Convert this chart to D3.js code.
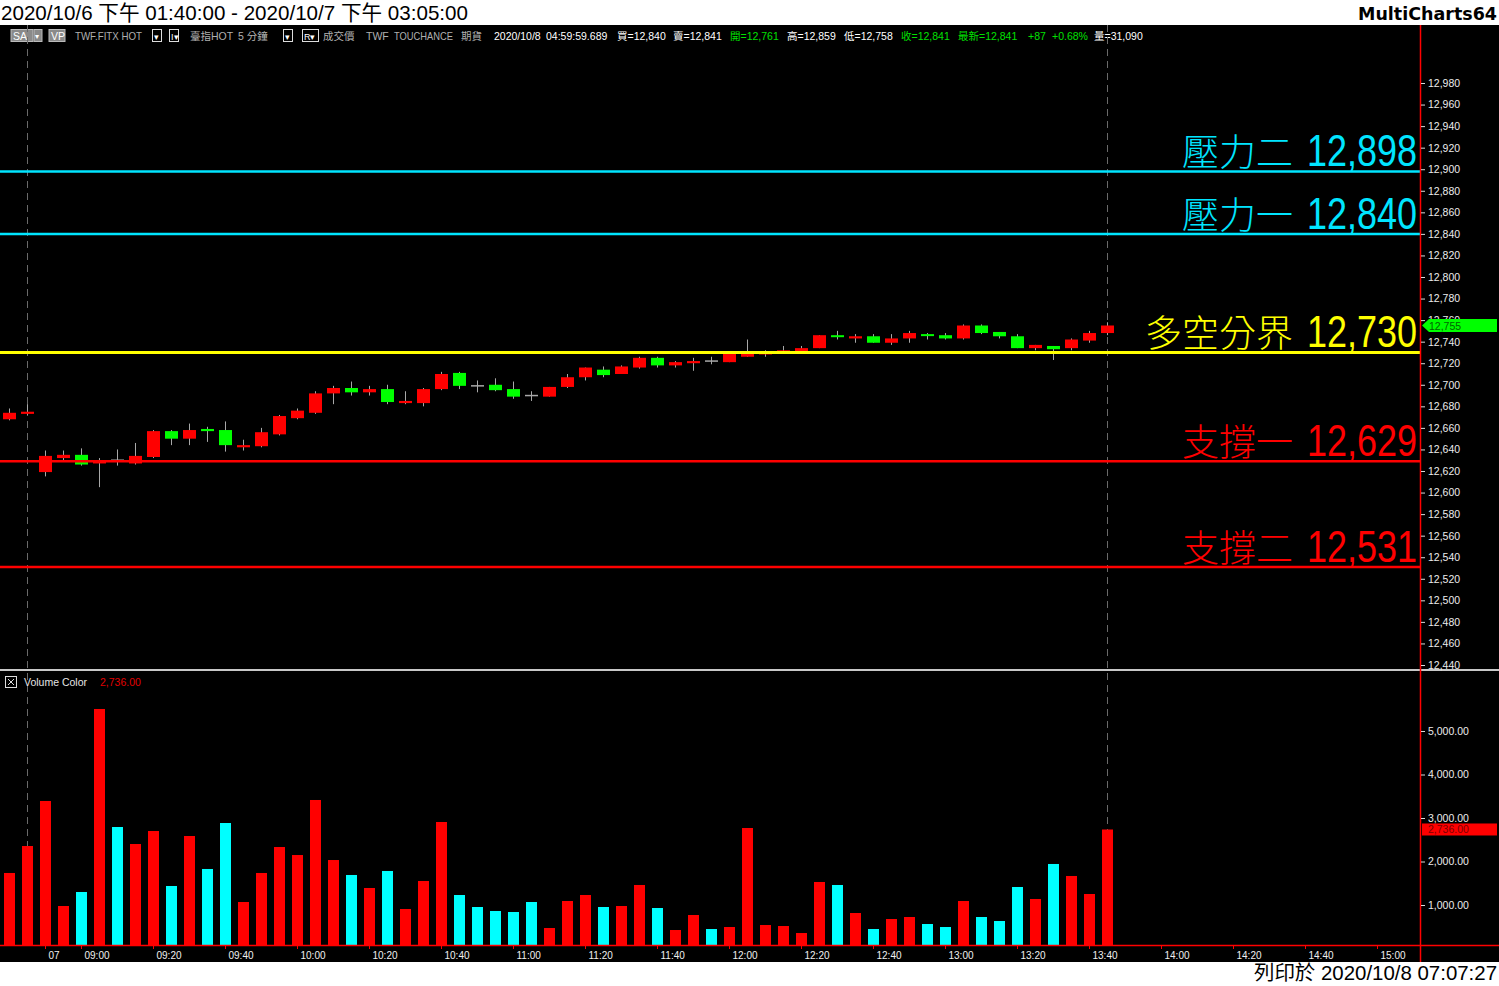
<!DOCTYPE html>
<html><head><meta charset="utf-8">
<script src="https://cdn.jsdelivr.net/npm/d3@7"></script>
<style>body{margin:0;background:#fff;overflow:hidden}svg{display:block}</style>
</head><body>
<svg id="c" width="1499" height="986"></svg>
<script>
// ---------- DATA ----------
const times = ["13:40","13:45","08:50","08:55","09:00","09:05","09:10","09:15","09:20","09:25",
"09:30","09:35","09:40","09:45","09:50","09:55","10:00","10:05","10:10","10:15",
"10:20","10:25","10:30","10:35","10:40","10:45","10:50","10:55","11:00","11:05",
"11:10","11:15","11:20","11:25","11:30","11:35","11:40","11:45","11:50","11:55",
"12:00","12:05","12:10","12:15","12:20","12:25","12:30","12:35","12:40","12:45",
"12:50","12:55","13:00","13:05","13:10","13:15","13:20","13:25","13:30","13:35",
"13:40","13:45"];
const opens  = [12668,12673,12619,12632,12635,12627,12630,12627,12633,12657,12650,12659,12658,12642,12643,12654,12669,12674,12692,12697,12693,12696,12683,12683,12696,12711,12699,12700,12696,12690,12689,12698,12707,12714,12710,12716,12725,12718,12720,12722,12721,12726,12729,12731,12731,12734,12746,12743,12745,12739,12743,12747,12746,12743,12755,12749,12745,12734,12736,12734,12741,12748];
const highs  = [12678,12682,12639,12639,12641,12632,12640,12646,12658,12658,12664,12661,12666,12649,12660,12672,12678,12694,12699,12703,12699,12700,12694,12697,12712,12712,12704,12706,12703,12694,12698,12710,12716,12717,12718,12726,12726,12722,12725,12726,12730,12742,12732,12736,12736,12746,12750,12747,12747,12747,12750,12748,12748,12756,12756,12749,12747,12737,12736,12743,12750,12758];
const lows   = [12667,12672,12615,12630,12625,12605,12625,12626,12632,12644,12644,12647,12638,12639,12642,12653,12668,12673,12682,12690,12690,12682,12682,12680,12695,12696,12693,12694,12687,12685,12689,12697,12704,12707,12710,12715,12716,12716,12713,12719,12721,12726,12726,12730,12730,12734,12742,12739,12739,12737,12739,12742,12742,12742,12747,12743,12734,12732,12723,12732,12739,12746];
const closes = [12674,12675,12634,12635,12626,12630,12630,12634,12657,12650,12658,12657,12644,12644,12656,12671,12676,12692,12697,12693,12696,12684,12685,12696,12710,12699,12699,12695,12689,12690,12698,12707,12716,12709,12717,12725,12718,12721,12722,12722,12730,12730,12730,12732,12734,12746,12745,12745,12739,12743,12748,12746,12743,12755,12748,12745,12734,12737,12733,12742,12748,12755];
const volumes = [1736,2356,3391,977,1299,5506,2793,2402,2701,1437,2586,1828,2885,1069,1736,2333,2149,3414,2034,1690,1391,1782,908,1552,2908,1230,954,862,839,1069,471,1092,1230,954,977,1460,931,425,770,448,494,2770,540,517,356,1529,1460,816,448,678,724,563,494,1092,724,632,1414,1138,1943,1667,1253,2736];
const timeTickSlots  = [2,4,8,12,16,20,24,28,32,36,40,44,48,52,56,60,64,68,72,76];
const timeTickLabels = ["07","09:00","09:20","09:40","10:00","10:20","10:40","11:00","11:20","11:40","12:00","12:20","12:40","13:00","13:20","13:40","14:00","14:20","14:40","15:00"];
const priceTicks = [12440,12460,12480,12500,12520,12540,12560,12580,12600,12620,12640,12660,12680,12700,12720,12740,12760,12780,12800,12820,12840,12860,12880,12900,12920,12940,12960,12980];
const volTicks = [1000,2000,3000,4000,5000];
const levelNames  = ["壓力二","壓力一","多空分界","支撐一","支撐二"];
const levelValues = [12898,12840,12730,12629,12531];
const levelColors = ["#00e5ff","#00e5ff","#ffff00","#ff0000","#ff0000"];
const lastPrice = 12755;
const lastVolume = 2736;

// ---------- SETUP ----------
const W = 1499, H = 986;
const svg = d3.select("#c");
const fontLat = "'Liberation Sans', Arial, 'Noto Sans CJK TC', sans-serif";
const fontCJK = "'Noto Sans CJK TC', 'Noto Sans CJK SC', sans-serif";
svg.append("rect").attr("width", W).attr("height", H).attr("fill", "#fff");
svg.append("rect").attr("x", 0).attr("y", 25).attr("width", W).attr("height", 937).attr("fill", "#000");

const x  = d3.scaleLinear().domain([0, 76]).range([9, 1377]);
const yP = d3.scaleLinear().domain([12440, 12980]).range([665, 83]);
const yV = d3.scaleLinear().domain([0, 5000]).range([948.5, 731]);
const fmt = d3.format(",");
const fmt2 = d3.format(",.2f");

const bars = times.map((t, i) => ({i, t, o: opens[i], h: highs[i], l: lows[i], c: closes[i], v: volumes[i]}));

// ---------- TITLE BAND ----------
svg.append("text").attr("x", 1).attr("y", 20).attr("font-family", fontLat).attr("font-size", 21)
  .attr("fill", "#000").attr("textLength", 467).attr("lengthAdjust", "spacingAndGlyphs")
  .text("2020/10/6 下午 01:40:00 - 2020/10/7 下午 03:05:00");
svg.append("text").attr("x", 1497).attr("y", 20).attr("text-anchor", "end")
  .attr("font-family", "'DejaVu Sans', Verdana, sans-serif").attr("font-weight", "bold").attr("font-size", 17)
  .attr("fill", "#000").attr("textLength", 139).attr("lengthAdjust", "spacingAndGlyphs").text("MultiCharts64");
svg.append("text").attr("x", 1497).attr("y", 980).attr("text-anchor", "end").attr("font-family", fontLat)
  .attr("font-size", 20).attr("fill", "#000").attr("textLength", 243).attr("lengthAdjust", "spacingAndGlyphs")
  .text("列印於 2020/10/8 07:07:27");

// ---------- TOOLBAR ROW ----------
const tb = svg.append("g").attr("font-family", fontLat).attr("font-size", 10.5);
function grayBox(x0, w, label) {
  tb.append("rect").attr("x", x0).attr("y", 29.5).attr("width", w).attr("height", 12).attr("fill", "#8a8a8a").attr("stroke", "#bbb").attr("stroke-width", 1);
  tb.append("text").attr("x", x0 + 2).attr("y", 40).attr("fill", "#fff").text(label);
}
function outBox(x0, w, label) {
  tb.append("rect").attr("x", x0 + 0.5).attr("y", 29.5).attr("width", w).attr("height", 12).attr("fill", "#000").attr("stroke", "#ddd").attr("stroke-width", 1);
  tb.append("text").attr("x", x0 + 2).attr("y", 39.5).attr("fill", "#fff").attr("font-size", 9).text(label);
}
grayBox(11, 22, "SA");
tb.append("rect").attr("x", 34).attr("y", 29.5).attr("width", 8).attr("height", 12).attr("fill", "#8a8a8a").attr("stroke", "#bbb");
tb.append("text").attr("x", 34.5).attr("y", 39).attr("fill", "#fff").attr("font-size", 8).text("▾");
grayBox(49, 16, "VP");
outBox(152, 9, "▾");
outBox(169, 9, "I▾");
outBox(283, 9, "▾");
outBox(302, 16, "R▾");
const tbTexts = [
  ["TWF.FITX HOT", 75, "#b0b0b0", 67], ["臺指HOT", 190, "#b0b0b0", 0], ["5 分鐘", 238, "#b0b0b0", 0],
  ["成交價", 323, "#b0b0b0", 0], ["TWF", 366, "#b0b0b0", 0], ["TOUCHANCE", 394, "#b0b0b0", 59], ["期貨", 461, "#b0b0b0", 0],
  ["2020/10/8", 494, "#fff", 0], ["04:59:59.689", 546, "#fff", 0], ["買=12,840", 617, "#fff", 0], ["賣=12,841", 673, "#fff", 0],
  ["開=12,761", 730, "#00e000", 0], ["高=12,859", 787, "#fff", 0], ["低=12,758", 844, "#fff", 0], ["收=12,841", 901, "#00e000", 0],
  ["最新=12,841", 958, "#00e000", 0], ["+87", 1028, "#00e000", 0], ["+0.68%", 1052, "#00e000", 0], ["量=31,090", 1094, "#fff", 0]
];
tb.selectAll("text.t").data(tbTexts).join("text").attr("class", "t")
  .attr("x", d => d[1]).attr("y", 40).attr("fill", d => d[2])
  .each(function(d) { if (d[3]) d3.select(this).attr("textLength", d[3]).attr("lengthAdjust", "spacingAndGlyphs"); })
  .text(d => d[0]);

// ---------- DASHED SESSION LINES ----------
[1, 61].forEach(i => {
  svg.append("line").attr("x1", x(i) + 0.5).attr("x2", x(i) + 0.5).attr("y1", 25).attr("y2", 945)
    .attr("stroke", "#6a6a6a").attr("stroke-width", 1).attr("stroke-dasharray", "7,5");
});

// ---------- CANDLES ----------
const cg = svg.append("g");
cg.selectAll("line.wick").data(bars).join("line").attr("class", "wick")
  .attr("x1", d => x(d.i) + 0.5).attr("x2", d => x(d.i) + 0.5)
  .attr("y1", d => yP(d.h)).attr("y2", d => yP(d.l))
  .attr("stroke", "#a8a8a8").attr("stroke-width", 1);
cg.selectAll("rect.body").data(bars.filter(d => d.o !== d.c)).join("rect").attr("class", "body")
  .attr("x", d => x(d.i) - 6).attr("width", 13)
  .attr("y", d => yP(Math.max(d.o, d.c)))
  .attr("height", d => Math.max(2, yP(Math.min(d.o, d.c)) - yP(Math.max(d.o, d.c))))
  .attr("fill", d => d.c > d.o ? "#ff0000" : "#00ff00");
cg.selectAll("line.doji").data(bars.filter(d => d.o === d.c)).join("line").attr("class", "doji")
  .attr("x1", d => x(d.i) - 6).attr("x2", d => x(d.i) + 7)
  .attr("y1", d => yP(d.c)).attr("y2", d => yP(d.c))
  .attr("stroke", "#a8a8a8").attr("stroke-width", 1.5);

// ---------- LEVEL LINES ----------
const lv = levelValues.map((v, k) => ({v, name: levelNames[k], color: levelColors[k]}));
svg.selectAll("line.level").data(lv).join("line").attr("class", "level")
  .attr("x1", 0).attr("x2", 1420).attr("y1", d => yP(d.v)).attr("y2", d => yP(d.v))
  .attr("stroke", d => d.color).attr("stroke-width", d => d.v === 12730 ? 3 : 2.5);
svg.selectAll("text.lvName").data(lv).join("text").attr("class", "lvName")
  .attr("x", 1293).attr("y", d => yP(d.v) - 5).attr("text-anchor", "end")
  .attr("font-family", fontCJK).attr("font-weight", 300).attr("font-size", 37)
  .attr("fill", d => d.color).text(d => d.name);
svg.selectAll("text.lvVal").data(lv).join("text").attr("class", "lvVal")
  .attr("x", 1307).attr("y", d => yP(d.v) - 5)
  .attr("font-family", fontLat).attr("font-size", 44)
  .attr("textLength", 110).attr("lengthAdjust", "spacingAndGlyphs")
  .attr("fill", d => d.color).text(d => fmt(d.v));

// ---------- PANEL SEPARATOR ----------
svg.append("rect").attr("x", 0).attr("y", 669).attr("width", W).attr("height", 2).attr("fill", "#c8c8c8");

// ---------- VOLUME ----------
const vg = svg.append("g");
vg.selectAll("rect.vol").data(bars).join("rect").attr("class", "vol")
  .attr("x", d => x(d.i) - 5).attr("width", 11)
  .attr("y", d => yV(d.v)).attr("height", d => 945 - yV(d.v))
  .attr("fill", d => d.c > d.o ? "#ff0000" : "#00ffff");
// legend
svg.append("rect").attr("x", 5.5).attr("y", 676.5).attr("width", 11).attr("height", 11).attr("fill", "none").attr("stroke", "#ddd");
svg.append("path").attr("d", "M8,679 L14,685 M14,679 L8,685").attr("stroke", "#ddd").attr("stroke-width", 1);
svg.append("text").attr("x", 24).attr("y", 686).attr("font-family", fontLat).attr("font-size", 10.5).attr("fill", "#e6e6e6").text("Volume Color");
svg.append("text").attr("x", 100).attr("y", 686).attr("font-family", fontLat).attr("font-size", 10.5).attr("fill", "#e00000").text(fmt2(lastVolume));

// ---------- TIME AXIS ----------
svg.append("line").attr("x1", 0).attr("x2", W).attr("y1", 945.5).attr("y2", 945.5).attr("stroke", "#ff0000").attr("stroke-width", 1.5);
const tAxis = d3.axisBottom(x).tickValues(timeTickSlots).tickSize(4).tickFormat((d, k) => timeTickLabels[k]);
const tg = svg.append("g").attr("transform", "translate(0,945)").call(tAxis);
tg.select(".domain").remove();
tg.selectAll(".tick line").attr("stroke", "#ff0000");
tg.selectAll(".tick text").attr("fill", "#f0f0f0").attr("font-family", fontLat).attr("font-size", 10)
  .attr("text-anchor", "start").attr("x", 3).attr("y", 7).attr("dy", "0.71em");

// ---------- PRICE AXIS ----------
svg.append("line").attr("x1", 1420.5).attr("x2", 1420.5).attr("y1", 25).attr("y2", 962).attr("stroke", "#ff0000").attr("stroke-width", 1.5);
const pAxis = d3.axisRight(yP).tickValues(priceTicks).tickSize(4).tickPadding(3).tickFormat(fmt);
const pg = svg.append("g").attr("transform", "translate(1421,0)").call(pAxis);
pg.select(".domain").remove();
pg.selectAll(".tick line").attr("stroke", "#dcdcdc");
pg.selectAll(".tick text").attr("fill", "#ececec").attr("font-family", fontLat).attr("font-size", 10.5);

const vAxis = d3.axisRight(yV).tickValues(volTicks).tickSize(4).tickPadding(3).tickFormat(fmt2);
const vag = svg.append("g").attr("transform", "translate(1421,0)").call(vAxis);
vag.select(".domain").remove();
vag.selectAll(".tick line").attr("stroke", "#dcdcdc");
vag.selectAll(".tick text").attr("fill", "#ececec").attr("font-family", fontLat).attr("font-size", 10.5);

// last price marker
const yl = yP(lastPrice);
svg.append("path").attr("d", `M1422,${yl} L1429,${yl - 6.5} L1497,${yl - 6.5} L1497,${yl + 6.5} L1429,${yl + 6.5} Z`).attr("fill", "#00ff00");
svg.append("text").attr("x", 1429).attr("y", yl + 4).attr("font-family", fontLat).attr("font-size", 10.5).attr("fill", "#006400").text(fmt(lastPrice));
// last volume marker
const yvl = yV(lastVolume);
svg.append("rect").attr("x", 1422).attr("y", yvl - 6).attr("width", 75).attr("height", 12).attr("fill", "#ff0000");
svg.append("text").attr("x", 1428).attr("y", yvl + 4).attr("font-family", fontLat).attr("font-size", 10.5).attr("fill", "#800000").text(fmt2(lastVolume));
</script>
</body></html>
